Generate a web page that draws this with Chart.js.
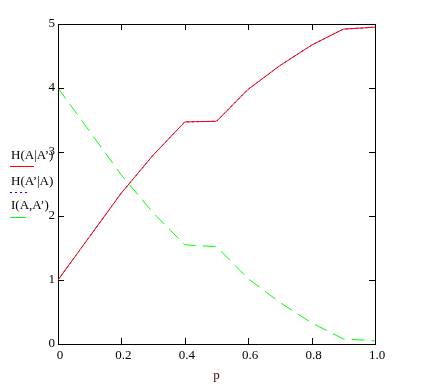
<!DOCTYPE html>
<html>
<head>
<meta charset="utf-8">
<script src="https://cdn.jsdelivr.net/npm/chart.js@4.4.0/dist/chart.umd.min.js"></script>
<style>
  html, body { margin: 0; padding: 0; background: #fff; }
  canvas { display: block; }
</style>
</head>
<body>
<canvas id="chart" width="429" height="392"></canvas>
<script>
// values
const pValues = [0, 0.1, 0.2, 0.3, 0.4, 0.5, 0.6, 0.7, 0.8, 0.9, 1.0];
const hAgivenA2 = [1.0, 1.68, 2.36, 2.95, 3.47, 3.48, 3.98, 4.35, 4.67, 4.92, 4.95];
const hA2givenA = [1.0, 1.68, 2.36, 2.95, 3.47, 3.48, 3.98, 4.35, 4.67, 4.92, 4.95];
const iAA2 = [4.0, 3.32, 2.64, 2.05, 1.55, 1.52, 1.02, 0.65, 0.33, 0.08, 0.05];
const seriesLabels = ["H(A|A\u2019)", "H(A\u2019|A)", "I(A,A\u2019)"];
const xTicks = [0, 0.2, 0.4, 0.6, 0.8, 1];
const yTicks = [0, 1, 2, 3, 4, 5];

const serif = "'Liberation Serif', 'DejaVu Serif', serif";

function toPoints(ys) {
    return pValues.map((p, i) => ({ x: p, y: ys[i] }));
}

// frame, inward ticks and the legend on the left
const framePlugin = {
    id: 'frame',
    afterDraw(chart) {
        const ctx = chart.ctx;
        const a = chart.chartArea;
        const xs = chart.scales.x;
        const ys = chart.scales.y;
        ctx.save();
        ctx.strokeStyle = '#000';
        ctx.lineWidth = 1;
        ctx.beginPath();
        ctx.moveTo(Math.round(a.left) + 0.5, Math.round(a.top) + 0.5);
        ctx.lineTo(Math.round(a.right) + 0.5, Math.round(a.top) + 0.5);
        ctx.lineTo(Math.round(a.right) + 0.5, Math.round(a.bottom) + 0.5);
        ctx.stroke();
        ctx.beginPath();
        xTicks.forEach(v => {
            const px = Math.round(xs.getPixelForValue(v)) + 0.5;
            ctx.moveTo(px, a.bottom);
            ctx.lineTo(px, a.bottom - 6);
            ctx.moveTo(px, a.top);
            ctx.lineTo(px, a.top + 6);
        });
        yTicks.forEach(v => {
            const py = Math.round(ys.getPixelForValue(v)) + 0.5;
            ctx.moveTo(a.left, py);
            ctx.lineTo(a.left + 6, py);
            ctx.moveTo(a.right, py);
            ctx.lineTo(a.right - 6, py);
        });
        ctx.stroke();

        // legend: text with a short line sample under it
        const rows = [
            { textY: 159, lineY: 166, lineEnd: 34, dash: [] },
            { textY: 185, lineY: 192, lineEnd: 30, dash: [2, 3] },
            { textY: 209, lineY: 217, lineEnd: 26, dash: [] }
        ];
        ctx.font = "13px " + serif;
        ctx.textBaseline = 'alphabetic';
        ctx.textAlign = 'left';
        chart.data.datasets.forEach((ds, i) => {
            const r = rows[i];
            ctx.fillStyle = '#000';
            ctx.fillText(ds.label, 11, r.textY);
            ctx.strokeStyle = ds.borderColor;
            ctx.setLineDash(r.dash);
            ctx.beginPath();
            ctx.moveTo(10, r.lineY + 0.5);
            ctx.lineTo(r.lineEnd, r.lineY + 0.5);
            ctx.stroke();
        });
        ctx.restore();
    }
};

new Chart(document.getElementById('chart'), {
    type: 'line',
    data: {
        datasets: [{
            label: seriesLabels[0],
            data: toPoints(hAgivenA2),
            borderColor: '#ff0000',
            borderWidth: 1
        }, {
            label: seriesLabels[1],
            data: toPoints(hA2givenA),
            borderColor: '#0000ff',
            borderWidth: 1,
            borderDash: [2, 3]
        }, {
            label: seriesLabels[2],
            data: toPoints(iAA2),
            borderColor: '#00ff00',
            borderWidth: 1,
            borderDash: [13, 7]
        }]
    },
    options: {
        responsive: false,
        animation: false,
        layout: {
            padding: { top: 24, right: 54, bottom: 0, left: 0 }
        },
        elements: {
            point: { radius: 0 },
            line: { tension: 0 }
        },
        plugins: {
            legend: { display: false },
            tooltip: { enabled: false }
        },
        scales: {
            x: {
                type: 'linear',
                min: 0,
                max: 1,
                afterFit(scale) { scale.height = 48; },
                afterBuildTicks(scale) { scale.ticks = xTicks.map(v => ({ value: v })); },
                grid: { drawOnChartArea: false, drawTicks: false },
                border: { display: true, color: '#000', width: 1 },
                ticks: {
                    color: '#000',
                    padding: 4,
                    labelOffset: 2,
                    maxRotation: 0,
                    autoSkip: false,
                    font: { family: serif, size: 13 }
                },
                title: {
                    display: true,
                    text: 'p',
                    color: '#400000',
                    font: { family: serif, size: 13 },
                    padding: { top: 0, bottom: 9 }
                }
            },
            y: {
                min: 0,
                max: 5,
                afterFit(scale) { scale.width = 58; },
                afterBuildTicks(scale) { scale.ticks = yTicks.map(v => ({ value: v })); },
                grid: { drawOnChartArea: false, drawTicks: false },
                border: { display: true, color: '#000', width: 1 },
                ticks: {
                    color: '#000',
                    padding: 3,
                    font: { family: serif, size: 13 }
                }
            }
        }
    },
    plugins: [framePlugin]
});
</script>
</body>
</html>
